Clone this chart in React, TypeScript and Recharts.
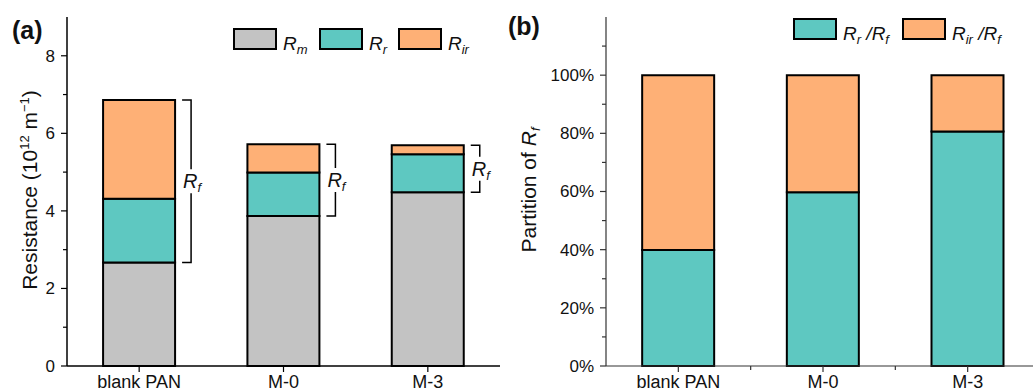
import React from "react";
import { BarChart, Bar, XAxis, YAxis, Rectangle } from "recharts";

const categories = ["blank PAN", "M-0", "M-3"];
const rm = [2.67, 3.87, 4.48];
const rr = [1.64, 1.12, 0.98];
const rir = [2.55, 0.73, 0.23];
const rrShare = [39.9, 59.7, 80.6];
const rirShare = [60.1, 40.3, 19.4];

const resistanceTicks = [0, 1, 2, 3, 4, 5, 6, 7, 8];
const shareTicks = [0, 10, 20, 30, 40, 50, 60, 70, 80, 90, 100, 110];

const GRAY = "#C3C3C3";
const TEAL = "#5EC8C1";
const ORANGE = "#FEB076";
const FONT = "'Liberation Sans', Arial, sans-serif";

const dataA = categories.map((name, i) => ({ name, Rm: rm[i], Rr: rr[i], Rir: rir[i] }));
const dataB = categories.map((name, i) => ({ name, RrRf: rrShare[i], RirRf: rirShare[i] }));

const makeYTick = (isMajor: (v: number) => boolean, fmt: (v: number) => string, color: string) => (props: any) => {
  const { x, y, payload } = props;
  const ax = x + 10;
  const major = isMajor(payload.value);
  return (
    <g>
      <line x1={ax} x2={ax - (major ? 6 : 4)} y1={y} y2={y} stroke={color} strokeWidth={1.2} />
      {major && (
        <text x={ax - 12} y={y} dy="0.35em" textAnchor="end" fontSize={17} fontFamily={FONT} fill="#111">
          {fmt(payload.value)}
        </text>
      )}
    </g>
  );
};

const makeXTick = (color: string, minor: boolean) => (props: any) => {
  const { x, y, payload, index } = props;
  const ay = y - 9;
  return (
    <g>
      <line x1={x} x2={x} y1={ay} y2={ay + 6} stroke={color} strokeWidth={1.2} />
      {minor && index < 2 && (
        <line x1={x + payload.offset} x2={x + payload.offset} y1={ay} y2={ay + 4} stroke={color} strokeWidth={1.2} />
      )}
      <text x={x} y={y} dy="0.71em" textAnchor="middle" fontSize={18} fontFamily={FONT} fill="#111">
        {payload.value}
      </text>
    </g>
  );
};

// top segment of each stack also carries the R_f bracket
const RirWithBracket = (props: any) => {
  const { x, y, width, height, payload } = props;
  const ppu = height / payload.Rir;
  const bottom = y + height + payload.Rr * ppu;
  const bx = x + width + 16;
  const mid = (y + bottom) / 2;
  return (
    <g>
      <Rectangle x={x} y={y} width={width} height={height} fill={ORANGE} stroke="#000" strokeWidth={2} />
      <path
        d={`M${bx - 9},${y} H${bx} V${mid - 12} M${bx},${mid + 12} V${bottom} H${bx - 9}`}
        fill="none"
        stroke="#000"
        strokeWidth={1.5}
      />
      <text x={bx - 8} y={mid + 7} fontSize={20} fontFamily={FONT} fontStyle="italic" fill="#111">
        R<tspan fontSize={13} dy={4}>f</tspan>
      </text>
    </g>
  );
};

const LegendItem = ({ x, y, fill, children }: any) => (
  <g>
    <rect x={x + 1} y={y + 1} width={42} height={20} fill={fill} stroke="#000" strokeWidth={2} />
    <text x={x + 50} y={y + 22} fontSize={19} fontFamily={FONT} fontStyle="italic" fill="#111">
      {children}
    </text>
  </g>
);

function Overlay() {
  return (
    <svg width={1033} height={391} style={{ position: "absolute", left: 0, top: 0, pointerEvents: "none" }}>
      <text x={12} y={39} fontSize={25} fontWeight="bold" fontFamily={FONT} fill="#111">(a)</text>
      <text x={508} y={35} fontSize={25} fontWeight="bold" fontFamily={FONT} fill="#111">(b)</text>

      <text transform="translate(37,190) rotate(-90)" textAnchor="middle" fontSize={21} fontFamily={FONT} fill="#111">
        Resistance (10<tspan fontSize={13} dy={-8}>12</tspan>
        <tspan dy={8}> m</tspan>
        <tspan fontSize={13} dy={-8}>−1</tspan>
        <tspan dy={8}>)</tspan>
      </text>
      <text transform="translate(536,190) rotate(-90)" textAnchor="middle" fontSize={21} fontFamily={FONT} fill="#111">
        Partition of <tspan fontStyle="italic">R</tspan>
        <tspan fontStyle="italic" fontSize={13} dy={4}>f</tspan>
      </text>

      <LegendItem x={233} y={28} fill={GRAY}>
        R<tspan fontSize={13} dy={4}>m</tspan>
      </LegendItem>
      <LegendItem x={319} y={28} fill={TEAL}>
        R<tspan fontSize={13} dy={4}>r</tspan>
      </LegendItem>
      <LegendItem x={398} y={28} fill={ORANGE}>
        R<tspan fontSize={13} dy={4}>ir</tspan>
      </LegendItem>

      <LegendItem x={793} y={18} fill={TEAL}>
        R<tspan fontSize={13} dy={4}>r</tspan>
        <tspan dy={-4}> /R</tspan>
        <tspan fontSize={13} dy={4}>f</tspan>
      </LegendItem>
      <LegendItem x={902} y={18} fill={ORANGE}>
        R<tspan fontSize={13} dy={4}>ir</tspan>
        <tspan dy={-4}> /R</tspan>
        <tspan fontSize={13} dy={4}>f</tspan>
      </LegendItem>
    </svg>
  );
}

export default function App() {
  return (
    <div style={{ position: "absolute", left: 0, top: 0, width: 1033, height: 391, overflow: "hidden", background: "#fff" }}>
      <div style={{ position: "absolute", left: 0, top: 0 }}>
        <BarChart width={520} height={391} data={dataA} margin={{ top: 17, right: 20, bottom: 0, left: 0 }} barCategoryGap="25%">
          <XAxis
            dataKey="name"
            height={25}
            tickSize={6}
            tickMargin={3}
            tickLine={false}
            axisLine={{ stroke: "#000", strokeWidth: 1.5 }}
            tick={makeXTick("#000", false)}
            interval={0}
          />
          <YAxis
            width={67}
            domain={[0, 9]}
            ticks={resistanceTicks}
            tickSize={7}
            tickMargin={3}
            tickLine={false}
            axisLine={{ stroke: "#000", strokeWidth: 1.5 }}
            tick={makeYTick((v) => v % 2 === 0, (v) => String(v), "#000")}
            interval={0}
          />
          <Bar dataKey="Rm" stackId="a" fill={GRAY} stroke="#000" strokeWidth={2} isAnimationActive={false} />
          <Bar dataKey="Rr" stackId="a" fill={TEAL} stroke="#000" strokeWidth={2} isAnimationActive={false} />
          <Bar dataKey="Rir" stackId="a" fill={ORANGE} shape={RirWithBracket} isAnimationActive={false} />
        </BarChart>
      </div>
      <div style={{ position: "absolute", left: 520, top: 0 }}>
        <BarChart width={520} height={391} data={dataB} margin={{ top: 17, right: 0, bottom: 0, left: 0 }} barCategoryGap="25%">
          <XAxis
            dataKey="name"
            height={25}
            tickSize={6}
            tickMargin={3}
            tickLine={false}
            axisLine={{ stroke: "#333", strokeWidth: 1.2 }}
            tick={makeXTick("#333", true)}
            interval={0}
          />
          <YAxis
            width={86}
            domain={[0, 120]}
            ticks={shareTicks}
            tickSize={7}
            tickMargin={3}
            tickLine={false}
            axisLine={{ stroke: "#333", strokeWidth: 1.2 }}
            tick={makeYTick((v) => v % 20 === 0, (v) => `${v}%`, "#333")}
            interval={0}
          />
          <Bar dataKey="RrRf" stackId="b" fill={TEAL} stroke="#000" strokeWidth={2} isAnimationActive={false} />
          <Bar dataKey="RirRf" stackId="b" fill={ORANGE} stroke="#000" strokeWidth={2} isAnimationActive={false} />
        </BarChart>
      </div>
      <Overlay />
    </div>
  );
}
